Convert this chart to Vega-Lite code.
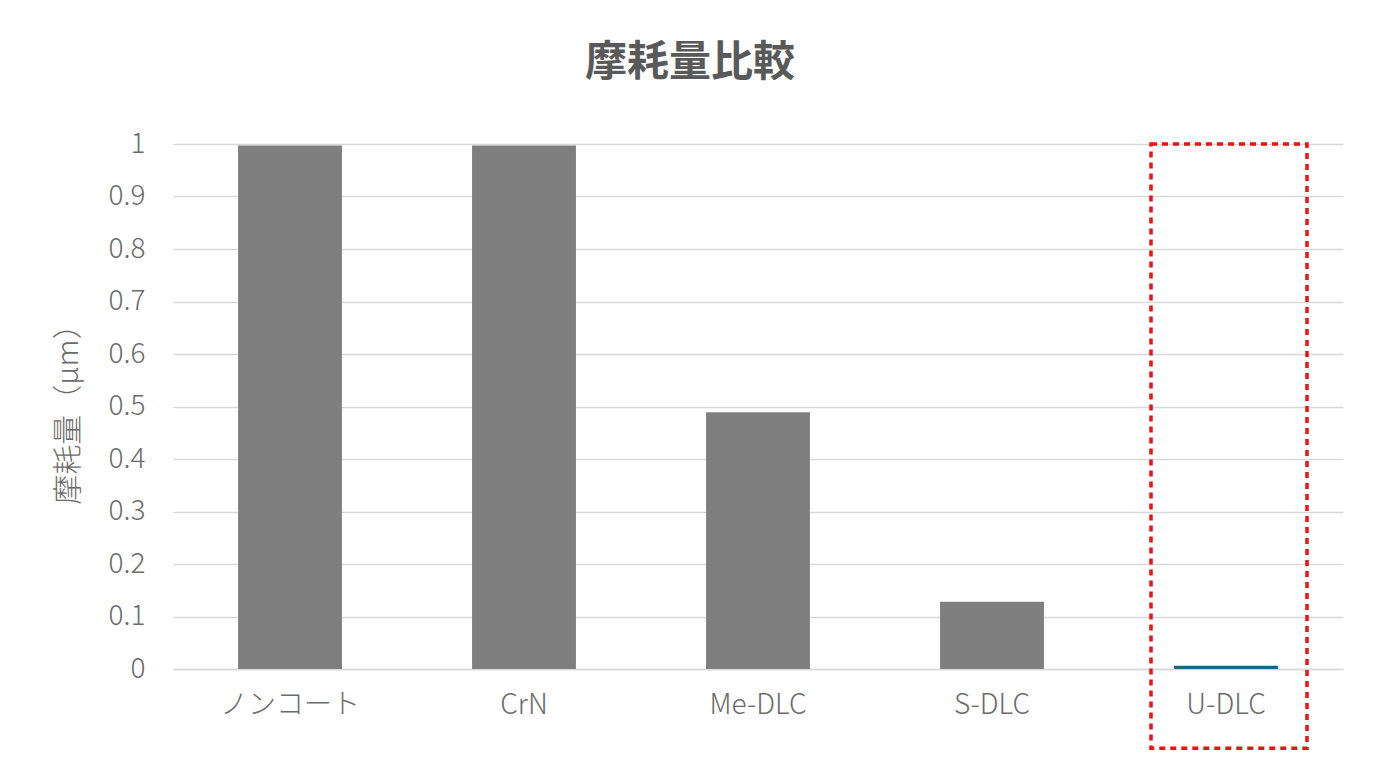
{
  "$schema": "https://vega.github.io/schema/vega-lite/v6.json",
  "autosize": "none",
  "width": 1170,
  "height": 525,
  "padding": {"left": 173, "top": 144, "right": 37, "bottom": 91},
  "background": "white",
  "title": {
    "text": "摩耗量比較",
    "font": "Noto Sans CJK JP",
    "fontSize": 42,
    "fontWeight": "bold",
    "color": "#595959",
    "anchor": "middle",
    "dx": -68,
    "offset": 45
  },
  "config": {
    "view": {"stroke": null},
    "font": "Noto Sans CJK JP"
  },
  "datasets": {
    "wear": [
      {"category": "ノンコート", "value": 0.997},
      {"category": "CrN", "value": 0.997},
      {"category": "Me-DLC", "value": 0.489},
      {"category": "S-DLC", "value": 0.128},
      {"category": "U-DLC", "value": 0.006}
    ],
    "highlight": [
      {"category": "U-DLC", "top": 1, "bottom": -0.151}
    ]
  },
  "layer": [
    {
      "data": {"name": "wear"},
      "mark": {"type": "bar"},
      "encoding": {
        "x": {
          "field": "category",
          "type": "nominal",
          "sort": null,
          "title": null,
          "scale": {"paddingInner": 0.556, "paddingOuter": 0.278},
          "axis": {
            "labelAngle": 0,
            "labelFontSize": 28,
            "labelFontWeight": 300,
            "labelColor": "#6b6b6b",
            "labelPadding": 22,
            "ticks": false,
            "domainColor": "#d9d9d9",
            "domainWidth": 1.5
          }
        },
        "y": {
          "field": "value",
          "type": "quantitative",
          "scale": {"domain": [0, 1], "nice": false},
          "title": "摩耗量（μm）",
          "axis": {
            "values": [0, 0.1, 0.2, 0.3, 0.4, 0.5, 0.6, 0.7, 0.8, 0.9, 1],
            "format": "~g",
            "labelFontSize": 28,
            "labelFontWeight": 300,
            "labelColor": "#6b6b6b",
            "labelPadding": 28,
            "ticks": false,
            "domain": false,
            "gridColor": "#d9d9d9",
            "gridWidth": 1.5,
            "titleFontSize": 30,
            "titleFontWeight": 300,
            "titleColor": "#6b6b6b",
            "titlePadding": 25
          }
        },
        "color": {
          "condition": {"test": "datum.category === 'U-DLC'", "value": "#17687a"},
          "value": "#7f7f7f"
        }
      }
    },
    {
      "data": {"name": "highlight"},
      "mark": {
        "type": "bar",
        "width": 156,
        "xOffset": 3,
        "filled": false,
        "stroke": "#ee1111",
        "strokeWidth": 3.5,
        "strokeDash": [6, 5],
        "clip": false
      },
      "encoding": {
        "x": {"field": "category", "type": "nominal", "sort": null},
        "y": {"field": "top", "type": "quantitative"},
        "y2": {"field": "bottom"}
      }
    }
  ]
}
